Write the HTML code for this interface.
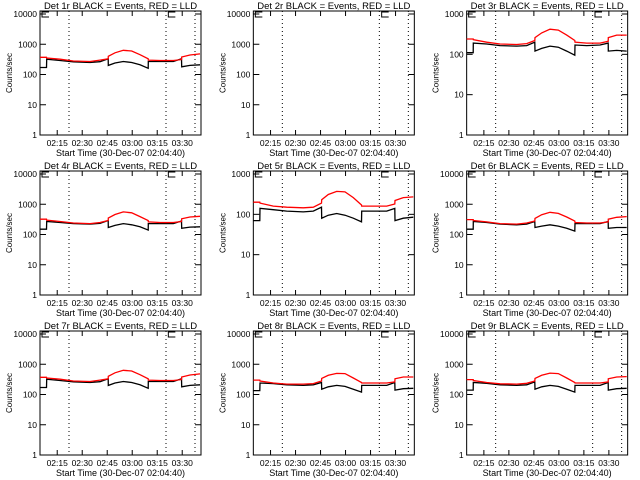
<!DOCTYPE html>
<html><head><meta charset="utf-8">
<style>
html,body{margin:0;padding:0;background:#fff;}
svg{display:block;font-family:"Liberation Sans",sans-serif;}
</style></head>
<body>
<svg id="chart" width="640" height="480" viewBox="0 0 640 480" xmlns="http://www.w3.org/2000/svg"></svg>
<script>
// time in minutes after 02:04:40
const times = [0,3.9,4,12,20,30,36,40.9,41,45,50,55,60,64.9,65,72,80,84.9,85,90,96];
const detNames = ["1r","2r","3r","4r","5r","6r","7r","8r","9r"];
const yTopDecade = [10000,10000,1000,10000,1000,10000,10000,10000,10000];
const black1 = [170,170,320,290,260,250,265,330,200,240,270,250,210,160,270,270,270,330,180,200,210];
const red1   = [370,370,350,320,280,270,300,330,400,520,630,600,450,330,300,290,290,310,380,440,480];
const black2 = [];
const red2   = [];
const black3 = [110,110,190,180,165,160,165,200,120,140,160,150,120,95,170,165,170,190,120,125,120];
const red3   = [240,240,230,200,180,175,185,220,260,340,420,400,300,220,200,190,190,210,260,300,300];
const black4 = [150,150,270,250,230,220,235,290,170,200,230,210,180,140,230,230,230,280,160,175,180];
const red4   = [320,320,300,270,240,230,250,290,350,460,560,520,390,290,260,250,250,270,330,380,400];
const black5 = [70,70,140,130,120,115,120,150,80,95,105,95,80,65,120,120,120,140,70,80,85];
const red5   = [200,200,190,160,150,145,150,190,230,310,370,360,260,170,160,160,160,180,220,260,270];
const black6 = [150,150,270,250,220,210,220,270,170,190,210,190,160,130,230,230,230,270,160,170,170];
const red6   = [310,310,290,260,230,220,240,280,340,450,540,500,380,280,250,240,240,260,320,370,390];
const black7 = [170,170,320,290,260,250,265,330,200,240,270,250,210,160,270,270,270,330,180,200,210];
const red7   = [370,370,350,320,280,270,300,330,400,520,630,600,450,330,300,290,290,310,380,440,480];
const black8 = [135,135,240,230,210,200,210,250,150,180,200,185,150,120,200,200,200,250,140,155,160];
const red8   = [300,300,280,240,220,220,230,280,340,430,500,490,350,250,240,240,240,260,330,380,380];
const black9 = [140,140,250,235,210,200,210,260,150,180,200,185,150,120,200,200,200,250,140,155,160];
const red9   = [310,310,290,250,225,220,235,280,340,430,510,490,350,250,240,240,240,260,330,380,390];
const blacks = [black1,black2,black3,black4,black5,black6,black7,black8,black9];
const reds = [red1,red2,red3,red4,red5,red6,red7,red8,red9];
const xTickLabels = ["02:15","02:30","02:45","03:00","03:15","03:30"];
const xTickMinutes = [10.33,25.33,40.33,55.33,70.33,85.33];
const dottedMinutes = [17.4,75.6,93];

const svg = document.getElementById('chart');
const NS = "http://www.w3.org/2000/svg";
function mk(tag, attrs, parent){
  const e = document.createElementNS(NS, tag);
  for (const k in attrs) e.setAttribute(k, attrs[k]);
  parent.appendChild(e);
  return e;
}
const tMax = 96.6;
for (let p = 0; p < 9; p++) {
  const c = p % 3, r = Math.floor(p / 3);
  const L = 40 + 213.33 * c, R = 201 + 213.33 * c;
  const T = 11 + 160 * r, B = 135 + 160 * r;
  const nDec = Math.log10(yTopDecade[p]);
  const decPx = (B - T - 3) / nDec;
  const xs = t => L + (t / tMax) * (R - L);
  const ys = v => B - Math.log10(v) * decPx;
  const g = mk('g', {}, svg);
  
  
  const box = mk('rect', {x:L, y:T, width:R-L, height:B-T, fill:'none', stroke:'#000', 'stroke-width':1}, g);
  
  
  const title = mk('text', {x:(L+R)/2, y:T-2, 'text-anchor':'middle', 'font-size':9.5}, g);
  title.textContent = 'Det ' + detNames[p] + ' BLACK = Events, RED = LLD';
  
  
  for (let d = 0; d <= nDec; d++) {
    const v = Math.pow(10, d), y = ys(v);
    mk('line', {x1:L, x2:L+6, y1:y, y2:y, stroke:'#000'}, g);
    mk('line', {x1:R, x2:R-6, y1:y, y2:y, stroke:'#000'}, g);
    const tl = mk('text', {x:L-3, y:y+3, 'text-anchor':'end', 'font-size':8.5}, g);
    tl.textContent = String(v);
    
    
  }
  const yl = mk('text', {x:0, y:0, 'text-anchor':'middle', 'font-size':8, transform:'translate(' + (L-28) + ',' + ((T+B)/2) + ') rotate(-90)'}, g);
  yl.textContent = 'Counts/sec';
  
  
  for (let i = 0; i < xTickMinutes.length; i++) {
    const x = xs(xTickMinutes[i]);
    mk('line', {x1:x, x2:x, y1:B, y2:B-5, stroke:'#000'}, g);
    mk('line', {x1:x, x2:x, y1:T, y2:T+5, stroke:'#000'}, g);
    const tl = mk('text', {x:x, y:B+11, 'text-anchor':'middle', 'font-size':8.5}, g);
    tl.textContent = xTickLabels[i];
    
    
  }
  const xl = mk('text', {x:(L+R)/2, y:B+21, 'text-anchor':'middle', 'font-size':9}, g);
  xl.textContent = 'Start Time (30-Dec-07 02:04:40)';
  
  
  for (const m of dottedMinutes) {
    const x = xs(m);
    const dl = mk('line', {x1:x, x2:x, y1:T, y2:B, stroke:'#000', 'stroke-dasharray':'1,3'}, g);
    
    
  }
  for (const bx of [L+2, xs(77)]) {
    const bm = mk('path', {d:'M' + (bx+7) + ',' + (T+1) + ' H' + bx + ' V' + (T+6) + ' H' + (bx+7), fill:'none', stroke:'#000'}, g);
    
    
  }
  const series = [[blacks[p], '#000', 'events-line'], [reds[p], '#ff0000', 'lld-line']];
  for (const [vals, col, nm] of series) {
    if (!vals.length) continue;
    const pts = vals.map((v, i) => xs(times[i]).toFixed(1) + ',' + ys(v).toFixed(1)).join(' ');
    const pl = mk('polyline', {points:pts, fill:'none', stroke:col, 'stroke-width':1.3}, g);
    
    
  }
}
</script>
</body></html>
